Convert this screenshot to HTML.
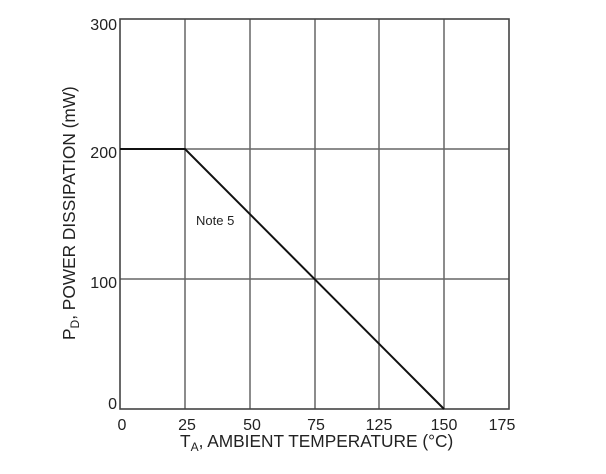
<!DOCTYPE html>
<html><head><style>html,body{margin:0;padding:0;background:#fff;}</style></head>
<body>
<svg width="606" height="469" xmlns="http://www.w3.org/2000/svg" font-family="Liberation Sans, Arial, sans-serif">
<rect width="606" height="469" fill="#fff"/>
<g stroke="#666" stroke-width="1.5">
<line x1="185" y1="19" x2="185" y2="409"/>
<line x1="250" y1="19" x2="250" y2="409"/>
<line x1="315" y1="19" x2="315" y2="409"/>
<line x1="379" y1="19" x2="379" y2="409"/>
<line x1="444" y1="19" x2="444" y2="409"/>
<line x1="120" y1="149" x2="509" y2="149"/>
<line x1="120" y1="279" x2="509" y2="279"/>
</g>
<rect x="120" y="19" width="389" height="390" fill="none" stroke="#444" stroke-width="1.6"/>
<polyline points="120,149 185,149 444,409" fill="none" stroke="#111" stroke-width="2"/>
<g font-size="16" fill="#222" text-anchor="end">
<text x="117" y="30">300</text>
<text x="117" y="158">200</text>
<text x="117" y="288">100</text>
<text x="117" y="409">0</text>
</g>
<g font-size="16" fill="#222" text-anchor="middle">
<text x="122" y="430">0</text>
<text x="187" y="430">25</text>
<text x="252" y="430">50</text>
<text x="316" y="430">75</text>
<text x="379" y="430">125</text>
<text x="444" y="430">150</text>
<text x="502" y="430">175</text>
</g>
<text x="196" y="225" font-size="13" fill="#222">Note 5</text>
<text x="180" y="447" font-size="17.3" fill="#222">T<tspan font-size="12" dy="4">A</tspan><tspan dy="-4">, AMBIENT TEMPERATURE (°C)</tspan></text>
<text transform="translate(75,340) rotate(-90)" font-size="17.3" fill="#222">P<tspan font-size="12" dy="4">D</tspan><tspan dy="-4">, POWER DISSIPATION (mW)</tspan></text>
</svg>
</body></html>
